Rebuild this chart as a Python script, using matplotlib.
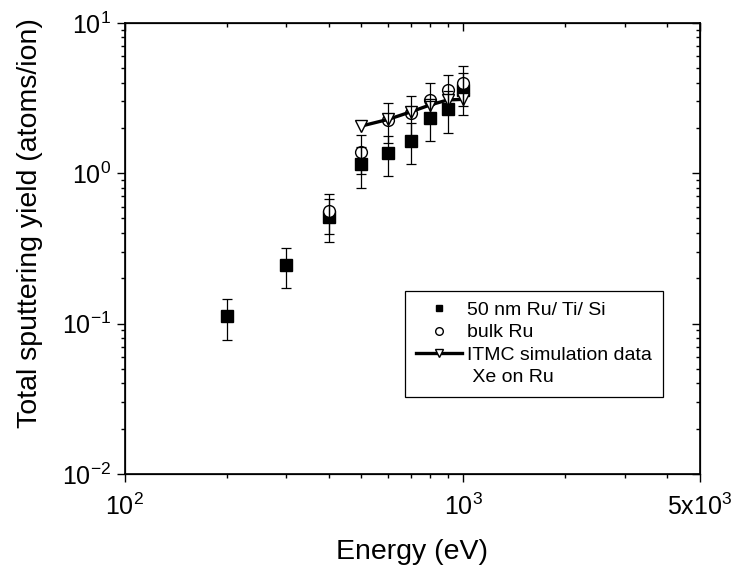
"""Total sputtering yield of Ru under Xe bombardment vs ion energy (log-log)."""

import matplotlib

matplotlib.use("Agg")
import matplotlib.pyplot as plt
from matplotlib.lines import Line2D
from matplotlib.ticker import FixedLocator, FixedFormatter, LogLocator, NullFormatter

plt.rcParams["font.family"] = ["Liberation Sans", "DejaVu Sans"]
plt.rcParams["mathtext.fontset"] = "custom"
plt.rcParams["mathtext.rm"] = "Liberation Sans"
plt.rcParams["mathtext.it"] = "Liberation Sans:italic"

# 50 nm Ru film on Ti/Si
film_energy = [200, 300, 400, 500, 600, 700, 800, 900, 1000]
film_yield = [0.112, 0.246, 0.51, 1.15, 1.36, 1.65, 2.33, 2.68, 3.55]
film_err = [0.034, 0.073, 0.16, 0.35, 0.40, 0.50, 0.70, 0.82, 1.1]

# bulk Ru
bulk_energy = [400, 500, 600, 700, 800, 900, 1000]
bulk_yield = [0.558, 1.39, 2.26, 2.50, 3.07, 3.55, 4.0]
bulk_err = [0.165, 0.40, 0.67, 0.78, 0.88, 0.98, 1.2]

# ITMC simulation, Xe on Ru
itmc_energy = [500, 600, 700, 800, 900, 1000]
itmc_yield = [2.06, 2.28, 2.56, 2.85, 3.07, 3.10]

x_major = [100, 1000, 5000]
x_major_labels = [r"$\mathdefault{10^{2}}$", r"$\mathdefault{10^{3}}$", r"$\mathdefault{5x10^{3}}$"]
x_minor = [200, 300, 400, 500, 600, 700, 800, 900, 2000, 3000, 4000]
y_major = [0.01, 0.1, 1, 10]
y_major_labels = [r"$\mathdefault{10^{-2}}$", r"$\mathdefault{10^{-1}}$",
                  r"$\mathdefault{10^{0}}$", r"$\mathdefault{10^{1}}$"]

fig = plt.figure(figsize=(7.35, 5.71), dpi=100)
ax = fig.add_axes([0.170, 0.170, 0.782, 0.790])
ax.set_xscale("log")
ax.set_yscale("log")
ax.set_xlim(100, 5000)
ax.set_ylim(0.01, 10)

ebar = dict(fmt="none", ecolor="black", elinewidth=0.9, capsize=3.3, capthick=0.9, zorder=4)
ax.errorbar(film_energy, film_yield, yerr=film_err, **ebar)
ax.errorbar(bulk_energy, bulk_yield, yerr=bulk_err, **ebar)
ax.plot(film_energy, film_yield, "s", ms=8, color="black", zorder=2)
ax.plot(bulk_energy, bulk_yield, "o", ms=8.5, mfc="white", mec="black", mew=1.0, zorder=3)
ax.plot(itmc_energy, itmc_yield, "-", color="black", lw=2.4, zorder=3)
ax.plot(itmc_energy, itmc_yield, "v", ms=8, mfc="white", mec="black", mew=1.0, zorder=3.5)

ax.xaxis.set_major_locator(FixedLocator(x_major))
ax.xaxis.set_major_formatter(FixedFormatter(x_major_labels))
ax.xaxis.set_minor_locator(FixedLocator(x_minor))
ax.xaxis.set_minor_formatter(NullFormatter())
ax.yaxis.set_major_locator(FixedLocator(y_major))
ax.yaxis.set_major_formatter(FixedFormatter(y_major_labels))
ax.yaxis.set_minor_locator(LogLocator(base=10, subs=range(2, 10)))
ax.yaxis.set_minor_formatter(NullFormatter())
ax.tick_params(which="both", direction="out", labelsize=18, width=1.0)
ax.tick_params(axis="x", which="major", pad=8)
ax.tick_params(axis="y", which="major", pad=4)
ax.tick_params(which="major", length=6)
ax.tick_params(which="minor", length=3.2)
for s in ax.spines.values():
    s.set_linewidth(1.2)

# mirrored inward ticks on top and right
axt = ax.twiny()
axt.set_xscale("log")
axt.set_xlim(ax.get_xlim())
axt.xaxis.set_major_locator(FixedLocator(x_major))
axt.xaxis.set_minor_locator(FixedLocator(x_minor))
axt.xaxis.set_major_formatter(NullFormatter())
axt.xaxis.set_minor_formatter(NullFormatter())
axt.tick_params(which="both", direction="in", width=1.0)
axt.tick_params(which="major", length=6)
axt.tick_params(which="minor", length=3.2)
axr = ax.twinx()
axr.set_yscale("log")
axr.set_ylim(ax.get_ylim())
axr.yaxis.set_major_locator(FixedLocator(y_major))
axr.yaxis.set_minor_locator(LogLocator(base=10, subs=range(2, 10)))
axr.yaxis.set_major_formatter(NullFormatter())
axr.yaxis.set_minor_formatter(NullFormatter())
axr.tick_params(which="both", direction="in", width=1.0)
axr.tick_params(which="major", length=6)
axr.tick_params(which="minor", length=3.2)

ax.set_xlabel("Energy (eV)", fontsize=20.5, labelpad=14)
ax.set_ylabel("Total sputtering yield (atoms/ion)", fontsize=20.5)
ax.yaxis.set_label_coords(-0.142, 0.557)

handles = [
    Line2D([], [], ls="none", marker="s", ms=5, color="black"),
    Line2D([], [], ls="none", marker="o", ms=5.5, mfc="white", mec="black"),
    Line2D([], [], ls="-", lw=2.4, color="black", marker="v", ms=6, mfc="white", mec="black"),
    Line2D([], [], ls="none"),
]
labels = ["50 nm Ru/ Ti/ Si", "bulk Ru", "ITMC simulation data", " Xe on Ru"]
leg = axr.legend(handles, labels, loc="upper left", bbox_to_anchor=(0.487, 0.406),
                 fontsize=14, frameon=True, fancybox=False, framealpha=1,
                 edgecolor="black", handlelength=2.4, handletextpad=0.25,
                 labelspacing=0.24, borderpad=0.55, borderaxespad=0)
leg.get_frame().set_linewidth(0.9)

fig.savefig("out.png", dpi=100)
